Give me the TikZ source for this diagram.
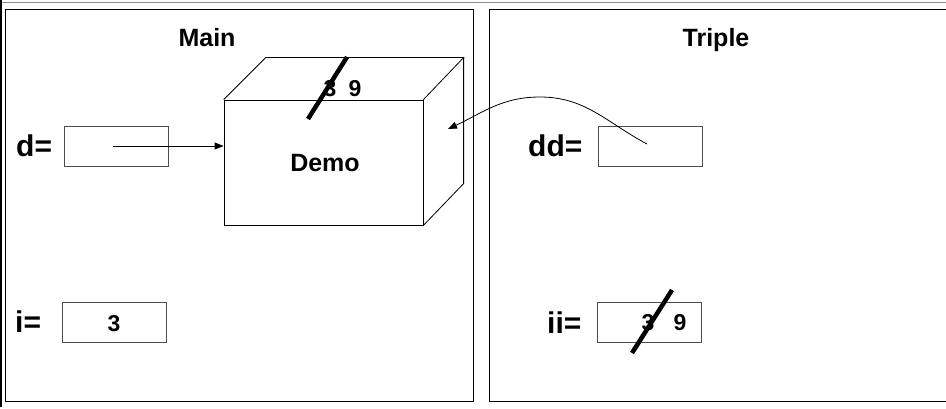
\documentclass[tikz,border=0pt]{standalone}
\usepackage{fontspec}
\setmainfont{Liberation Sans}
\usetikzlibrary{arrows.meta}
\begin{document}
\begin{tikzpicture}[x=1pt,y=-1pt,
  panel/.style={draw=black,line width=1pt},
  varbox/.style={draw=black!70,line width=0.9pt,minimum width=104pt,minimum height=40pt,inner sep=0pt,anchor=north west},
  lbl/.style={font=\fontsize{30}{30}\selectfont\bfseries,inner sep=0pt,anchor=base west},
  ttl/.style={font=\fontsize{25}{25}\selectfont\bfseries,inner sep=0pt,anchor=base},
  num/.style={font=\fontsize{23}{23}\selectfont\bfseries,inner sep=0pt,anchor=base},
  strike/.style={line width=4.5pt},
  conn/.style={line width=0.8pt,-{Triangle[length=9pt,width=7pt]}},
  cube/.style={draw=black,line width=0.8pt}]
\useasboundingbox (0,0) rectangle (946,409);
% outer frame fragments
\draw[black!45,line width=1pt] (0,2.5) -- (946,2.5);
\draw[black,line width=1.5pt] (1,0) -- (1,407);
% panels
\draw[panel] (5,10) rectangle (473,401);
\draw[panel] (489,10) rectangle (950,401);
\node[ttl] (tmain) at (207,47) {Main};
\node[ttl] (ttriple) at (716,47) {Triple};
% cube
\node[cube,minimum width=199pt,minimum height=125pt,inner sep=0pt] (demo) at (323.5,162.5) {};
\node[font=\fontsize{25}{25}\selectfont\bfseries,inner sep=0pt,anchor=base] (demotxt) at (325,172) {Demo};
\draw[cube] (demo.north west) -- ++(42,-42) coordinate (btl) -- ++(198,0) coordinate (btr) -- (demo.north east);
\draw[cube] (btr) -- ++(0,126) coordinate (bbr) -- (demo.south east);
\coordinate (cubeside) at (448,129);
\node[num] (three) at (330,97) {3};
\node[num] (nine) at (355,97) {9};
\draw[strike] (347,57) -- (308,119);
% d
\node[lbl] (dlbl) at (16,157) {d=};
\node[varbox] (dbox) at (64,126) {};
\coordinate (dstart) at (113,146);
\draw[conn] (dstart) -- (demo.west |- dstart);
% i
\node[lbl] (ilbl) at (15,332) {i=};
\node[varbox] (ibox) at (62,302) {};
\node[num] (ival) at (114,331) {3};
% dd
\node[lbl] (ddlbl) at (528,157) {dd=};
\node[varbox] (ddbox) at (598,126) {};
\coordinate (ddstart) at (647,144);
\draw[conn] (ddstart) to[out=152,in=0] (540,97) to[out=180,in=25] (cubeside);
% ii
\node[lbl] (iilbl) at (547,333) {ii=};
\node[varbox] (iibox) at (597,302) {};
\node[num] (ii3) at (648,330) {3};
\node[num] (ii9) at (680,330) {9};
\draw[strike] (672,290) -- (632,353);
\end{tikzpicture}
\end{document}
